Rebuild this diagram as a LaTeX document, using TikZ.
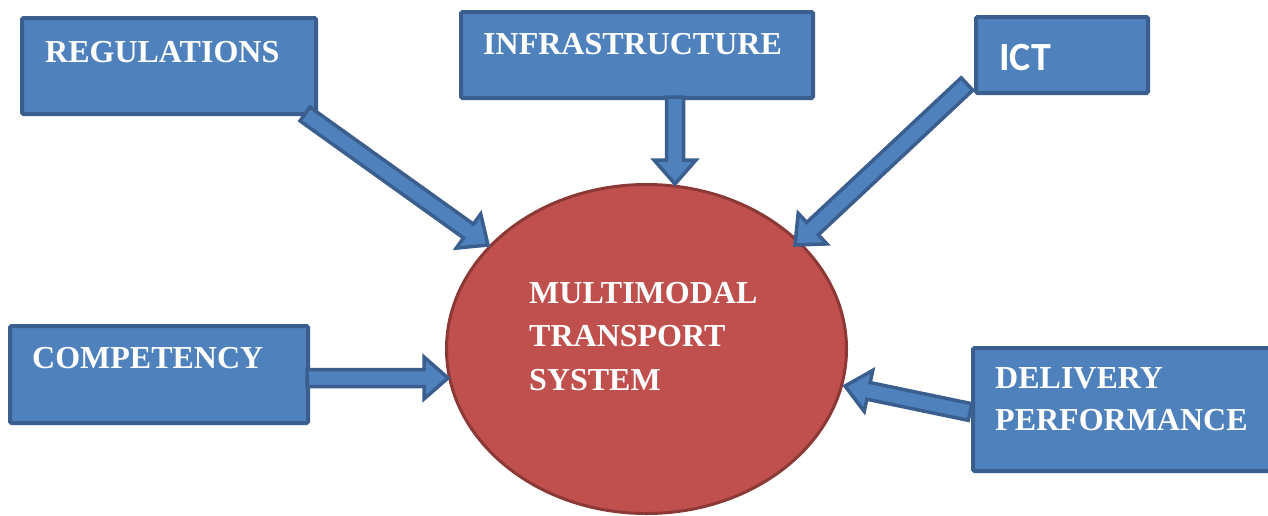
\documentclass[tikz,border=0pt]{standalone}
\usepackage{fontspec}
\setmainfont{Liberation Serif}
\newfontfamily\calibfont{Carlito}
\usetikzlibrary{calc,shapes.geometric}
\definecolor{boxfill}{HTML}{4F81BD}
\definecolor{boxline}{HTML}{3A5F8E}
\definecolor{ellfill}{HTML}{C0504D}
\definecolor{ellline}{HTML}{8C3836}
\tikzset{
  blockbox/.style={draw=boxline, fill=boxfill, line width=4pt, rounded corners=1.5pt, inner sep=0pt, anchor=north west},
  lbl/.style={text=white, font=\bfseries\fontsize{32}{40}\selectfont, inner sep=0pt, anchor=base west},
  icttext/.style={text=white, font=\calibfont\bfseries\fontsize{40}{48}\selectfont, inner sep=0pt, anchor=base west},
  barrow/.style={draw=boxline, fill=boxfill, line width=3.5pt, line join=miter},
  mtsnode/.style={ellipse, draw=ellline, fill=ellfill, line width=3pt, minimum width=400pt, minimum height=329pt, inner sep=0pt}
}
\newcommand\blockarrow[2]{%
  \coordinate (#1-#2-n) at ($(#2)!24pt!(#1)$);
  \draw[barrow] ($(#1)!8.5pt!90:(#2)$) -- ($(#1-#2-n)!8.5pt!-90:(#1)$) -- ($(#1-#2-n)!21pt!-90:(#1)$) -- (#2) -- ($(#1-#2-n)!21pt!90:(#1)$) -- ($(#1-#2-n)!8.5pt!90:(#1)$) -- ($(#1)!8.5pt!-90:(#2)$) -- cycle;
}
\begin{document}
\begin{tikzpicture}[x=1pt,y=-1pt]
\useasboundingbox (0,0) rectangle (1268,515);
% boxes
\node[blockbox, minimum width=294pt, minimum height=96pt] (reg) at (20,16) {};
\node[lbl] (regT) at (45,62) {REGULATIONS};
\node[blockbox, minimum width=352pt, minimum height=86pt] (inf) at (459,10) {};
\node[lbl] (infT) at (483,54) {INFRASTRUCTURE};
\node[blockbox, minimum width=172pt, minimum height=76pt] (ict) at (974,15) {};
\node[icttext] (ictT) at (999,70) {ICT};
\node[blockbox, minimum width=298pt, minimum height=97pt] (comp) at (8,324) {};
\node[lbl] (compT) at (32,368) {COMPETENCY};
\node[blockbox, minimum width=300pt, minimum height=123pt] (del) at (971,346) {};
\node[lbl] (delT1) at (995,388) {DELIVERY};
\node[lbl] (delT2) at (995,430) {PERFORMANCE};
% central ellipse
\node[mtsnode] (mts) at (646.5,349) {};
\node[lbl] (mts1) at (529,303) {MULTIMODAL};
\node[lbl] (mts2) at (529,346) {TRANSPORT};
\node[lbl] (mts3) at (529,390) {SYSTEM};
% arrow ends
\coordinate (regTail) at (305,114);
\coordinate (regTip) at (488,245);
\coordinate (infTail) at (675,97);
\coordinate (infTip) at (675,184);
\coordinate (ictTail) at (967,84);
\coordinate (ictTip) at (795,245);
\coordinate (compTail) at (307,378);
\coordinate (compTip) at (448,378);
\coordinate (delTail) at (970,412);
\coordinate (delTip) at (845,386);
\blockarrow{regTail}{regTip}
\blockarrow{infTail}{infTip}
\blockarrow{ictTail}{ictTip}
\blockarrow{compTail}{compTip}
\blockarrow{delTail}{delTip}
\end{tikzpicture}
\end{document}
